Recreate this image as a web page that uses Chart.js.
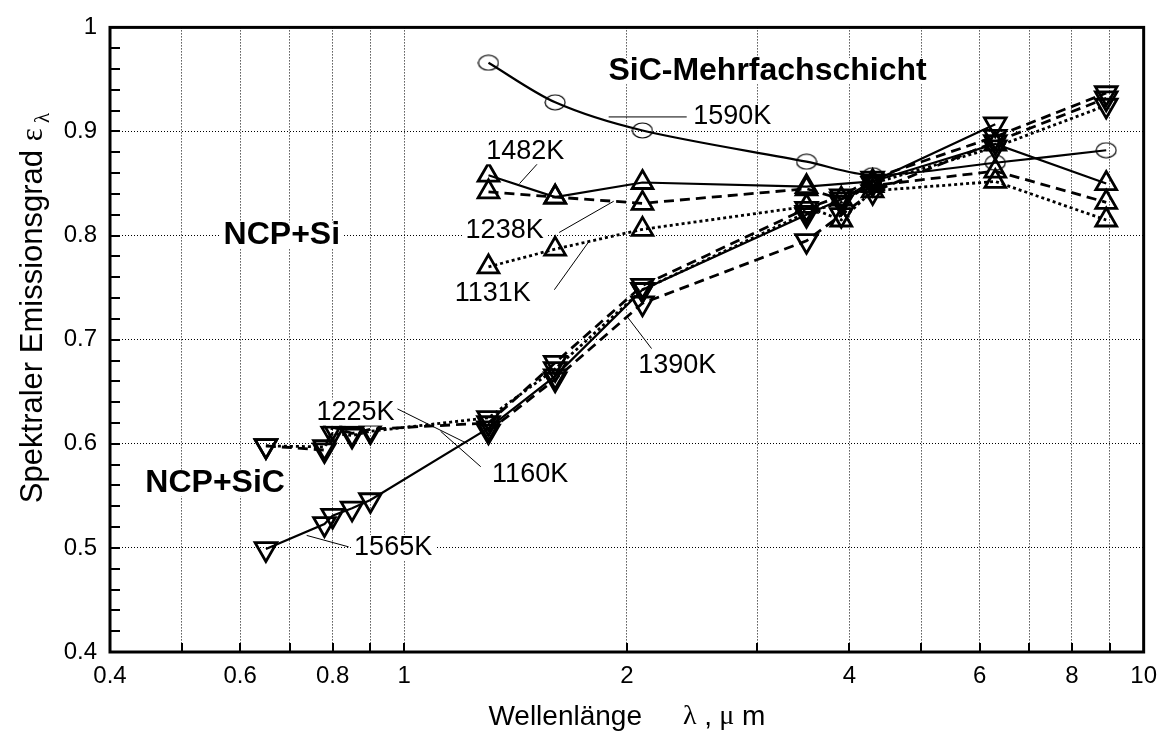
<!DOCTYPE html>
<html>
<head>
<meta charset="utf-8">
<script src="https://cdn.jsdelivr.net/npm/chart.js@4/dist/chart.umd.min.js"></script>
<style>
  html, body { margin: 0; padding: 0; background: #fff; }
  #wrap { width: 1167px; height: 731px; }
</style>
</head>
<body>
<div id="wrap"><canvas id="chart" width="1167" height="731"></canvas></div>
<script>
// wavelengths (µm)
const lambdaSiC = [0.65, 0.78, 0.8, 0.85, 0.9, 1.3, 1.6, 2.1, 3.5, 3.9, 4.3, 6.3, 8.9];
const lambdaSi = [1.3, 1.6, 2.1, 3.5, 3.9, 4.3, 6.3, 8.9];
const lambdaMulti = [1.3, 1.6, 2.1, 3.5, 4.3, 6.3, 8.9];

// NCP+SiC (down triangles)
const eps1565 = [0.499, 0.523, 0.531, 0.538, 0.546, 0.615, 0.665, 0.748, 0.820, 0.835, 0.852, 0.907, null];
const eps1225 = [0.598, 0.597, 0.610, 0.608, 0.612, 0.625, 0.672, 0.748, 0.822, 0.832, 0.850, 0.885, 0.925];
const eps1160 = [0.598, 0.594, 0.616, 0.610, 0.614, 0.620, 0.678, 0.752, 0.826, 0.838, 0.855, 0.895, 0.937];
const eps1390 = [null, null, null, null, null, 0.612, 0.662, 0.735, 0.795, 0.820, 0.842, 0.890, 0.932];

// NCP+Si (up triangles)
const eps1482 = [0.858, 0.837, 0.851, 0.847, null, 0.852, 0.888, 0.850];
const eps1238 = [0.842, 0.837, 0.831, 0.845, 0.835, 0.848, 0.862, 0.832];
const eps1131 = [0.770, 0.787, 0.806, 0.828, 0.815, 0.843, 0.852, 0.815];

// SiC-Mehrfachschicht (circles)
const eps1590 = [0.966, 0.928, 0.901, 0.871, 0.858, 0.870, 0.882];

// axis ticks
const xTicks = [0.4, 0.5, 0.6, 0.7, 0.8, 0.9, 1, 2, 3, 4, 5, 6, 7, 8, 9, 10];
const xLabelled = [0.4, 0.6, 0.8, 1, 2, 4, 6, 8, 10];
const yMinorStep = 0.02;

const FONT = '"Liberation Sans", Arial, sans-serif';
const SERIF = '"Liberation Serif", "Times New Roman", serif';

function pts(xs, ys) {
    return xs.map((x, i) => ({ x: x, y: ys[i] })).filter(p => p.y !== null);
}

// open ellipse marker for the multilayer series
function ellipseMarker(w, h) {
    const c = document.createElement('canvas');
    c.width = w + 2; c.height = h + 2;
    const g = c.getContext('2d');
    g.strokeStyle = '#000';
    g.lineWidth = 1.2;
    g.beginPath();
    g.ellipse(c.width / 2, c.height / 2, w / 2, h / 2, 0, 0, Math.PI * 2);
    g.stroke();
    return c;
}

const SOLID = [];
const DASH = [10, 6];
const DOT = [3, 3];

function series(label, data, dash, width, down) {
    return {
        label: label,
        data: data,
        borderColor: '#000',
        borderWidth: width,
        borderDash: dash,
        backgroundColor: 'rgba(0,0,0,0)',
        pointStyle: 'triangle',
        pointRotation: down ? 180 : 0,
        pointRadius: down ? 12.5 : 12,
        pointBorderWidth: 2.8,
        pointBorderColor: '#000',
        pointBackgroundColor: 'rgba(0,0,0,0)',
        tension: 0
    };
}

// annotation texts and leader lines, in data coordinates (λ, ε)
const notes = [
    { t: 'SiC-Mehrfachschicht', x: 3.10, y: 0.958, bold: true },
    { t: 'NCP+Si', x: 0.683, y: 0.800, bold: true },
    { t: 'NCP+SiC', x: 0.555, y: 0.562, bold: true },
    { t: '1590K', x: 2.46, y: 0.914, align: 'left' },
    { t: '1482K', x: 1.458, y: 0.881 },
    { t: '1238K', x: 1.367, y: 0.805 },
    { t: '1131K', x: 1.317, y: 0.744 },
    { t: '1225K', x: 0.859, y: 0.630 },
    { t: '1160K', x: 1.48, y: 0.570 },
    { t: '1565K', x: 0.966, y: 0.500 },
    { t: '1390K', x: 2.34, y: 0.6755 }
];
const leaders = [
    [1.89, 0.914, 2.41, 0.914],
    [1.514, 0.869, 1.432, 0.850],
    [1.62, 0.803, 1.92, 0.833],
    [1.596, 0.748, 1.78, 0.795],
    [0.976, 0.634, 1.219, 0.600],
    [1.269, 0.578, 1.12, 0.612],
    [0.841, 0.501, 0.738, 0.512],
    [2.0, 0.7226, 2.16, 0.6915]
];

function drawRuns(ctx, runs, x0, y0) {
    let cx = x0;
    runs.forEach(r => {
        ctx.font = r.font;
        ctx.fillText(r.t, cx + (r.dx || 0), y0 + (r.dy || 0));
        cx += ctx.measureText(r.t).width + (r.dx || 0);
    });
}

function runsWidth(ctx, runs) {
    return runs.reduce((s, r) => { ctx.font = r.font; return s + ctx.measureText(r.t).width + (r.dx || 0); }, 0);
}

const decor = {
    id: 'decor',
    afterDatasetsDraw(chart) {
        const { ctx, chartArea: a, scales: { x, y } } = chart;
        ctx.save();
        ctx.strokeStyle = '#000';
        ctx.fillStyle = '#000';
        ctx.setLineDash([]);

        // inward tick marks
        ctx.lineWidth = 2;
        ctx.beginPath();
        xTicks.forEach(v => {
            const px = Math.round(x.getPixelForValue(v));
            ctx.moveTo(px, a.bottom);
            ctx.lineTo(px, a.bottom - 9);
        });
        for (let v = 0.4; v <= 1.0001; v += yMinorStep) {
            const py = Math.round(y.getPixelForValue(v));
            ctx.moveTo(a.left, py);
            ctx.lineTo(a.left + 10, py);
        }
        ctx.stroke();

        // frame
        ctx.lineWidth = 3;
        ctx.strokeRect(a.left, a.top, a.right - a.left, a.bottom - a.top);

        // leader lines
        ctx.lineWidth = 1;
        ctx.beginPath();
        leaders.forEach(l => {
            ctx.moveTo(x.getPixelForValue(l[0]), y.getPixelForValue(l[1]));
            ctx.lineTo(x.getPixelForValue(l[2]), y.getPixelForValue(l[3]));
        });
        ctx.stroke();

        // labels (white backing like the original)
        ctx.textBaseline = 'middle';
        notes.forEach(n => {
            ctx.font = n.bold ? 'bold 32px ' + FONT : '27px ' + FONT;
            ctx.textAlign = n.align || 'center';
            const px = x.getPixelForValue(n.x), py = y.getPixelForValue(n.y);
            const w = ctx.measureText(n.t).width;
            const left = n.align === 'left' ? px : px - w / 2;
            ctx.fillStyle = '#fff';
            ctx.fillRect(left - 3, py - 13, w + 6, 26);
            ctx.fillStyle = '#000';
            ctx.fillText(n.t, px, py);
        });

        // x axis title
        ctx.textBaseline = 'middle';
        ctx.textAlign = 'left';
        const xRuns = [
            { t: 'Wellenlänge', font: '28px ' + FONT },
            { t: 'λ', font: '28px ' + SERIF, dx: 41 },
            { t: ' ,', font: '28px ' + FONT },
            { t: ' μ', font: '28px ' + SERIF },
            { t: ' m', font: '28px ' + FONT }
        ];
        const xMid = (a.left + a.right) / 2;
        drawRuns(ctx, xRuns, xMid - runsWidth(ctx, xRuns) / 2, 717);

        // y axis title with subscript
        ctx.textBaseline = 'alphabetic';
        const yRuns = [
            { t: 'Spektraler Emissionsgrad ', font: '31px ' + FONT },
            { t: 'ε', font: '31px ' + SERIF },
            { t: ' λ', font: '21px ' + SERIF, dy: 7 }
        ];
        ctx.translate(42, 308);
        ctx.rotate(-Math.PI / 2);
        drawRuns(ctx, yRuns, -runsWidth(ctx, yRuns) / 2, 0);
        ctx.restore();
    }
};

const ctx = document.getElementById('chart').getContext('2d');
new Chart(ctx, {
    type: 'line',
    data: {
        datasets: [
            {
                label: '1590K',
                data: pts(lambdaMulti, eps1590),
                borderColor: '#000',
                borderWidth: 2.2,
                backgroundColor: 'rgba(0,0,0,0)',
                pointStyle: ellipseMarker(20, 15),
                pointRadius: 10,
                tension: 0.3
            },
            series('1482K', pts(lambdaSi, eps1482), SOLID, 2.2),
            series('1238K', pts(lambdaSi, eps1238), DASH, 2.8),
            series('1131K', pts(lambdaSi, eps1131), DOT, 2.8),
            series('1565K', pts(lambdaSiC, eps1565), SOLID, 2.2, true),
            series('1225K', pts(lambdaSiC, eps1225), DOT, 2.8, true),
            series('1160K', pts(lambdaSiC, eps1160), DASH, 2.8, true),
            series('1390K', pts(lambdaSiC, eps1390), DASH, 2.8, true)
        ]
    },
    options: {
        responsive: false,
        animation: false,
        devicePixelRatio: 1,
        layout: { padding: { left: 0, right: 17, top: 16, bottom: 0 } },
        plugins: { legend: { display: false }, tooltip: { enabled: false } },
        scales: {
            x: {
                type: 'logarithmic',
                min: 0.4,
                max: 10,
                afterBuildTicks: s => { s.ticks = xTicks.map(v => ({ value: v })); },
                afterFit: s => { s.height = 79; },
                grid: { color: '#000', lineWidth: 1, drawTicks: false },
                border: { display: false, dash: [1, 2] },
                ticks: {
                    autoSkip: false,
                    maxRotation: 0,
                    padding: 10,
                    color: '#000',
                    font: { family: FONT, size: 24 },
                    callback: v => xLabelled.includes(v) ? String(v) : ''
                }
            },
            y: {
                type: 'linear',
                min: 0.4,
                max: 1,
                afterFit: s => { s.width = 110; },
                grid: { color: '#000', lineWidth: 1, drawTicks: false },
                border: { display: false, dash: [1, 2] },
                ticks: {
                    stepSize: 0.1,
                    padding: 13,
                    color: '#000',
                    font: { family: FONT, size: 24 },
                    callback: v => String(+v.toFixed(1))
                }
            }
        }
    },
    plugins: [decor]
});
</script>
</body>
</html>
